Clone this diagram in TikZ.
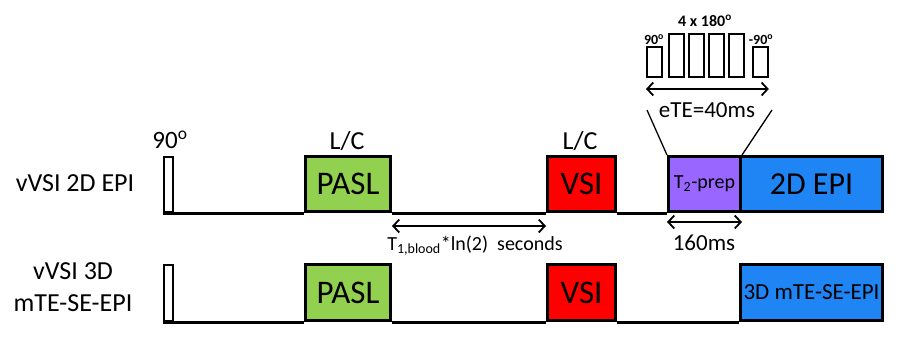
\documentclass[tikz,border=0pt]{standalone}
\usepackage{fontspec}
\setmainfont{Carlito}
\usetikzlibrary{arrows.meta}
\definecolor{cgreen}{HTML}{92D050}
\definecolor{cred}{HTML}{FF0000}
\definecolor{cpurple}{HTML}{9966FF}
\definecolor{cblue}{HTML}{1F85F5}
\begin{document}
\begin{tikzpicture}[x=1pt,y=-1pt,
  blk/.style={draw=black, line width=3pt, inner sep=0pt, anchor=south west},
  rf/.style={draw=black, line width=2.4pt, fill=white, inner sep=0pt, anchor=south west},
  sub/.style={draw=black, line width=1.8pt, fill=white, inner sep=0pt, anchor=south west, minimum width=15pt},
  base/.style={line width=3pt},
  dim/.style={line width=1.8pt, {Straight Barb[length=6pt,width=13pt]}-{Straight Barb[length=6pt,width=13pt]}},
  txt/.style={inner sep=0pt, font=\fontsize{#1}{#1}\selectfont},
  btxt/.style={inner sep=0pt, font=\fontsize{#1}{#1}\selectfont\bfseries}
]
\useasboundingbox (0,0) rectangle (908,345);

% row 1
\node[rf, minimum width=9pt, minimum height=55pt] (p1) at (163,213) {};
\node[blk, fill=cgreen, minimum width=85pt, minimum height=55pt, font=\fontsize{33}{33}\selectfont] (pasl1) at (304,213) {PASL};
\node[blk, fill=cred, minimum width=68pt, minimum height=55pt, font=\fontsize{33}{33}\selectfont] (vsi1) at (546,213) {VSI};
\node[blk, fill=cpurple, minimum width=72pt, minimum height=55pt, font=\fontsize{20}{20}\selectfont] (t2) at (667,213) {T\textsubscript{2}-prep};
\node[blk, fill=cblue, minimum width=142pt, minimum height=55pt, font=\fontsize{32}{32}\selectfont] (epi2) at (739,213) {2D EPI};
\draw[base] (p1.south west) -- (pasl1.south west);
\draw[base] (pasl1.south east) -- (vsi1.south west);
\draw[base] (vsi1.south east) -- (t2.south west);

% row 2
\node[rf, minimum width=9pt, minimum height=56pt] (p2) at (163,322) {};
\node[blk, fill=cgreen, minimum width=85pt, minimum height=56pt, font=\fontsize{33}{33}\selectfont] (pasl2) at (304,322) {PASL};
\node[blk, fill=cred, minimum width=68pt, minimum height=56pt, font=\fontsize{33}{33}\selectfont] (vsi2) at (546,322) {VSI};
\node[blk, fill=cblue, minimum width=142pt, minimum height=56pt, font=\fontsize{23}{23}\selectfont] (epi3) at (739,322) {3D mTE-SE-EPI};
\draw[base] (p2.south west) -- (pasl2.south west);
\draw[base] (pasl2.south east) -- (vsi2.south west);
\draw[base] (vsi2.south east) -- (epi3.south west);

% labels
\node[txt=25] (l90) at (170,140) {90\textsuperscript{o}};
\node[txt=26] (lc1) at (347,141) {L/C};
\node[txt=26] (lc2) at (580,141) {L/C};
\node[txt=26] (row1) at (75,183) {vVSI 2D EPI};
\node[txt=26, align=center, font=\fontsize{26}{32}\selectfont] (row2) at (73,287) {vVSI 3D\\mTE-SE-EPI};

% dimension arrows
\draw[dim] ([yshift=-13pt]pasl1.south east) -- ([yshift=-13pt]vsi1.south west);
\node[txt=20] (t1lab) at (475,246) {T\textsubscript{1,blood}*ln(2)\ \ seconds};
\draw[dim] ([yshift=-9pt]t2.south west) -- ([yshift=-9pt]t2.south east);
\node[txt=23] (l160) at (704,243) {160ms};

% inset T2-prep module
\node[sub, minimum height=30pt] (s90) at (646,78) {};
\node[sub, minimum height=43pt] (s180a) at (668,78) {};
\node[sub, minimum height=43pt] (s180b) at (688,78) {};
\node[sub, minimum height=43pt] (s180c) at (708,78) {};
\node[sub, minimum height=43pt] (s180d) at (728,78) {};
\node[sub, minimum height=30pt] (sm90) at (752,78) {};
\node[btxt=16] (l4x) at (705,21) {4 x 180\textsuperscript{o}};
\node[btxt=14] (l90s) at (654,40) {90\textsuperscript{o}};
\node[btxt=14] (lm90s) at (761,40) {-90\textsuperscript{o}};
\draw[dim] ([yshift=-11pt]s90.south west) -- ([yshift=-11pt]sm90.south east);
\node[txt=23] (ete) at (707,110) {eTE=40ms};
\coordinate (zl) at (647,110);
\coordinate (zr) at (772,110);
\draw[line width=1.3pt] (t2.north west) -- (zl);
\draw[line width=1.3pt] (t2.north east) -- (zr);
\end{tikzpicture}
\end{document}
